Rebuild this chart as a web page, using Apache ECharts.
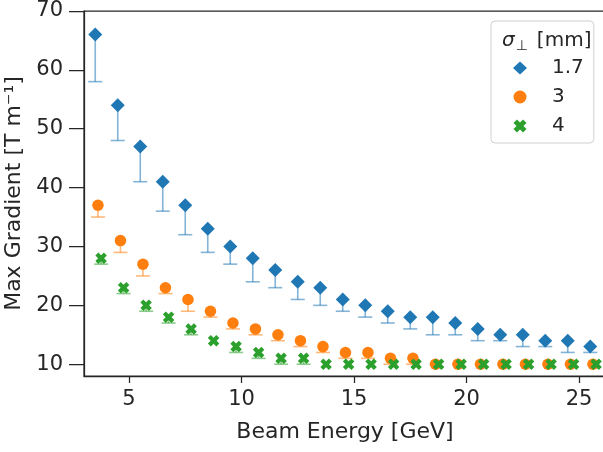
<!DOCTYPE html>
<html><head><meta charset="utf-8">
<script src="https://cdn.jsdelivr.net/npm/echarts@6/dist/echarts.min.js"></script>
<style>html,body{margin:0;padding:0;background:#fff}#c{width:603px;height:452px}</style>
</head><body><div id="c"></div>
<script>
// ---- data ----
const energies = [3.5,4.5,5.5,6.5,7.5,8.5,9.5,10.5,11.5,12.5,13.5,14.5,15.5,16.5,17.5,18.5,19.5,20.5,21.5,22.5,23.5,24.5,25.5];
const seriesNames = ['1.7','3','4'];
const grad17    = [66,54,47,41,37,33,30,28,26,24,23,21,20,19,18,18,17,16,15,15,14,14,13];
const grad17Low = [58,48,41,36,32,29,27,24,23,21,20,19,18,17,16,15,15,14,14,13,13,12,12];
const grad3     = [37,31,27,23,21,19,17,16,15,14,13,12,12,11,11,10,10,10,10,10,10,10,10];
const grad3Low  = [35,29,25,22,19,18,16,15,14,13,12,11,11,10,10,10,10,10,10,10,10,10,10];
const grad4     = [28,23,20,18,16,14,13,12,11,11,10,10,10,10,10,10,10,10,10,10,10,10,10];
const grad4Low  = [27,22,19,17,15,14,12,11,10,10,10,10,10,10,10,10,10,10,10,10,10,10,10];
const dodge = [0, 0.12, 0.26];
const xTicks = [5,10,15,20,25];
const yTicks = [10,20,30,40,50,60,70];

// ---- styles ----
const colors = ['#1f77b4','#ff7f0e','#2ca02c'];
const errColors = ['rgba(31,119,180,0.55)','rgba(255,127,14,0.55)','rgba(44,160,44,0.55)'];
const xPath = 'path://M0,2.6 L2.6,0 L5,2.4 L7.4,0 L10,2.6 L7.6,5 L10,7.4 L7.4,10 L5,7.6 L2.6,10 L0,7.4 L2.4,5 Z';
const symbols = ['diamond','circle', xPath];
const sizes = [14, 11.5, 11.5];
const txt = '#262626';
const font = 'DejaVu Sans';

const vals = [grad17, grad3, grad4];
const lows = [grad17Low, grad3Low, grad4Low];

function errSeries(k) {
  return {
    type: 'custom', silent: true,
    data: energies.map((e, i) => [e + dodge[k], vals[k][i], lows[k][i]]),
    encode: {x: 0, y: 1},
    renderItem(params, api) {
      const v = api.value(1), lo = api.value(2);
      if (!(lo < v)) return null;
      const top = api.coord([api.value(0), v]);
      const bot = api.coord([api.value(0), lo]);
      const st = {stroke: errColors[k], lineWidth: 1.6};
      return {type: 'group', children: [
        {type: 'line', shape: {x1: top[0], y1: top[1], x2: bot[0], y2: bot[1]}, style: st},
        {type: 'line', shape: {x1: bot[0] - 7, y1: bot[1], x2: bot[0] + 7, y2: bot[1]}, style: st}
      ]};
    }
  };
}
function scatterSeries(k) {
  return {
    type: 'scatter', name: seriesNames[k],
    symbol: symbols[k], symbolSize: sizes[k],
    itemStyle: {color: colors[k], opacity: 1},
    data: energies.map((e, i) => [e + dodge[k], vals[k][i]])
  };
}
const series = [];
for (let k = 0; k < 3; k++) { series.push(errSeries(k)); series.push(scatterSeries(k)); }

const chart = echarts.init(document.getElementById('c'), null, {renderer: 'canvas'});
chart.setOption({
  animation: false,
  backgroundColor: '#fff',
  textStyle: {fontFamily: font},
  grid: {left: 84, right: -3, top: 11, bottom: 76, show: true, borderColor: txt, borderWidth: 1.25,
         backgroundColor: 'transparent', outerBoundsMode: 'none', containLabel: false},
  title: {
    text: '{s|σ}{b|⊥}{t|[mm]}',
    left: 497, top: 24,
    textStyle: {fontFamily: font, fontSize: 20, fontWeight: 'normal', color: txt,
      rich: {
        s: {fontFamily: font, fontSize: 20, fontStyle: 'italic', color: txt},
        b: {fontFamily: font, fontSize: 14, color: txt, verticalAlign: 'bottom', padding: [10, 0, 0, 1]},
        t: {fontFamily: font, fontSize: 20, color: txt, padding: [0, 0, 0, 9]}
      }}
  },
  legend: {
    data: seriesNames,
    orient: 'vertical', left: 491, top: 21,
    padding: [37, 10, 7, 22],
    itemGap: 9, itemWidth: 14, itemHeight: 13,
    symbolKeepAspect: true,
    borderColor: '#d0d0d0', borderWidth: 1, borderRadius: 4,
    backgroundColor: 'rgba(255,255,255,0.8)',
    textStyle: {fontFamily: font, fontSize: 20, color: txt, padding: [0, 0, 0, 20]}
  },
  xAxis: {
    type: 'value', min: 3, max: 26.2,
    name: 'Beam Energy [GeV]', nameLocation: 'middle', nameGap: 45,
    nameTextStyle: {fontFamily: font, fontSize: 22, color: txt},
    axisLine: {show: true, lineStyle: {color: txt, width: 1.25}},
    axisTick: {show: true, length: 7, lineStyle: {color: txt, width: 1.25}, customValues: xTicks},
    axisLabel: {fontFamily: font, fontSize: 21, color: txt, margin: 13, customValues: xTicks},
    splitLine: {show: false}
  },
  yAxis: {
    type: 'value', min: 8, max: 70,
    name: 'Max Gradient [T m⁻¹]', nameLocation: 'middle', nameGap: 45,
    nameTextStyle: {fontFamily: font, fontSize: 22, color: txt},
    axisLine: {show: true, lineStyle: {color: txt, width: 1.25}},
    axisTick: {show: true, length: 15, lineStyle: {color: txt, width: 1.25}, customValues: yTicks},
    axisLabel: {fontFamily: font, fontSize: 21, color: txt, margin: 21, customValues: yTicks},
    splitLine: {show: false}
  },
  series: series
});
</script></body></html>
